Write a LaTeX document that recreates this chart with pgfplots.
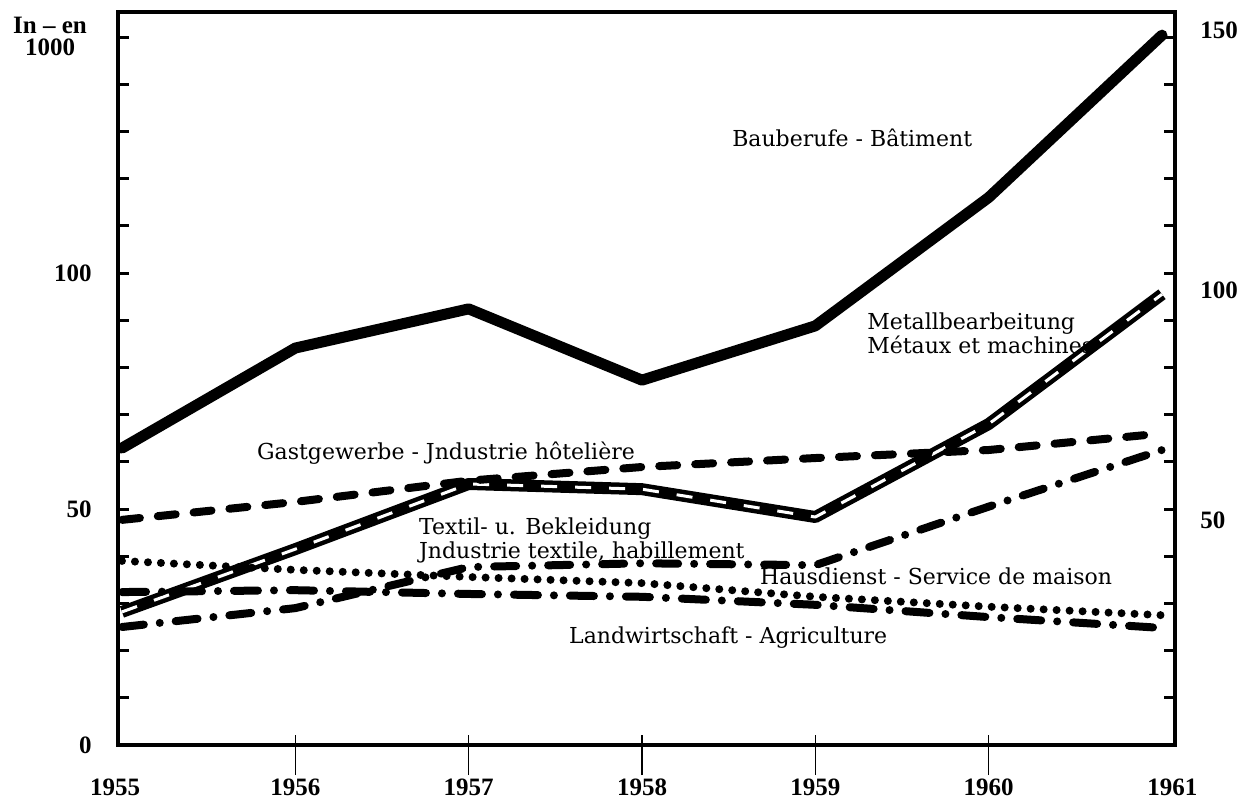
\documentclass[border=0pt]{standalone}
\usepackage{fontspec}
\setmainfont{Liberation Serif}
\newfontfamily\labfamily{DejaVu Serif}
\newcommand\labfont{\labfamily\fontsize{11}{13}\selectfont}
\newcommand\tickfont{\rmfamily\bfseries\fontsize{12.5}{12.5}\selectfont}
\usepackage{pgfplots}
\usepackage{pgfplotstable}
\pgfplotsset{compat=1.18}

\pgfplotstableread{
year bau metall gast textil haus land
1955 62.9 28.2 47.7 39.0 25.0 32.4
1956 84.1 41.5 51.5 37.1 29.0 32.8
1957 92.4 55.3 56.0 35.6 37.7 32.0
1958 77.3 54.2 58.9 34.3 38.5 31.4
1959 88.8 48.3 60.8 31.4 38.1 29.7
1960 116.0 68.0 62.5 29.3 50.5 27.1
1961 150.4 95.5 66.0 27.5 62.5 24.8
}\datatable

\begin{document}
\begin{tikzpicture}
\begin{axis}[
  scale only axis, width=528.5pt, height=366.5pt,
  xmin=1954.977, xmax=1961.075, ymin=0, ymax=155.3,
  axis line style={line width=2pt},
  clip=false,
  ytick=\empty,
  xtick={1956,1957,1958,1959,1960},
  xticklabels={1956,1957,1958,1959,1960},
  xtick pos=bottom,
  tick align=inside,
  major tick length=20pt,
  xtick style={line width=0.8pt, black, yshift=-15pt},
  xticklabel style={font=\tickfont, anchor=center, yshift=-21pt},
]
\coordinate (sw) at (rel axis cs:0,0);
\coordinate (ne) at (rel axis cs:1,1);

% Bauberufe
\addplot[black, line width=5.5pt, line cap=round, line join=round] table[x=year,y=bau]{\datatable};
% Metallbearbeitung (double line)
\addplot[black, line width=6pt, line cap=butt, line join=round] table[x=year,y=metall]{\datatable};
\addplot[white, line width=1.5pt, dash pattern=on 8pt off 9pt, line join=round] table[x=year,y=metall]{\datatable};
% Gastgewerbe
\addplot[black, line width=4pt, line cap=round, dash pattern=on 9pt off 9pt] table[x=year,y=gast]{\datatable};
% Textil
\addplot[black, line width=4pt, line cap=round, dash pattern=on 0pt off 6.5pt] table[x=year,y=textil]{\datatable};
% Hausdienst
\addplot[black, line width=4pt, line cap=round, dash pattern=on 11pt off 8pt on 0pt off 8pt] table[x=year,y=haus]{\datatable};
% Landwirtschaft
\addplot[black, line width=4pt, line cap=round, dash pattern=on 12pt off 8pt on 0pt off 8pt] table[x=year,y=land]{\datatable};

% curve labels
\node[font=\labfont, anchor=base west] at (axis cs:1958.48,126.7) {Bauberufe - Bâtiment};
\node[font=\labfont, anchor=base west] at (axis cs:1959.259,88.0) {Metallbearbeitung};
\node[font=\labfont, anchor=base west] at (axis cs:1959.259,83.0) {Métaux et machines};
\node[font=\labfont, anchor=base west] at (axis cs:1955.739,60.4) {Gastgewerbe - Jndustrie hôtelière};
\node[font=\labfont, anchor=base west] at (axis cs:1956.673,44.6) {Textil- u. Bekleidung};
\node[font=\labfont, anchor=base west] at (axis cs:1956.673,39.6) {Jndustrie textile, habillement};
\node[font=\labfont, anchor=base west] at (axis cs:1958.641,33.9) {Hausdienst - Service de maison};
\node[font=\labfont, anchor=base west] at (axis cs:1957.539,21.6) {Landwirtschaft - Agriculture};

% outer year labels
\node[font=\tickfont, anchor=center, yshift=-21pt] at (axis cs:1954.96,0) {1955};
\node[font=\tickfont, anchor=center, yshift=-21pt] at (axis cs:1961.06,0) {1961};

% right-hand scale labels
\node[font=\tickfont, anchor=west, inner sep=0pt, xshift=12.5pt] at (axis cs:1961.075,47.7) {50};
\node[font=\tickfont, anchor=west, inner sep=0pt, xshift=12.5pt] at (axis cs:1961.075,96.4) {100};
\node[font=\tickfont, anchor=west, inner sep=0pt, xshift=12.5pt] at (axis cs:1961.075,151.5) {150};

% unit label
\node[font=\tickfont, anchor=base] at (axis cs:1954.585,150.8) {In -- en};
\node[font=\tickfont, anchor=base] at (axis cs:1954.585,146.0) {1000};
\end{axis}

\begin{axis}[
  scale only axis, width=528.5pt, height=366.5pt,
  xmin=1954.977, xmax=1961.075, ymin=0, ymax=155.3,
  hide x axis,
  axis line style={draw=none},
  ytick={0,10,...,150},
  yticklabels={0,,,,,50,,,,,100,,,,,},
  ytick pos=both, yticklabel pos=left,
  tick align=inside, major tick length=5.5pt,
  ytick style={line width=1.5pt, black},
  yticklabel style={font=\tickfont, anchor=east, inner sep=0pt, xshift=-13pt},
]
\end{axis}
\pgfresetboundingbox
\path[use as bounding box] ([xshift=-59pt,yshift=-29pt]sw) rectangle ([xshift=32.5pt,yshift=6pt]ne);
\end{tikzpicture}
\end{document}
